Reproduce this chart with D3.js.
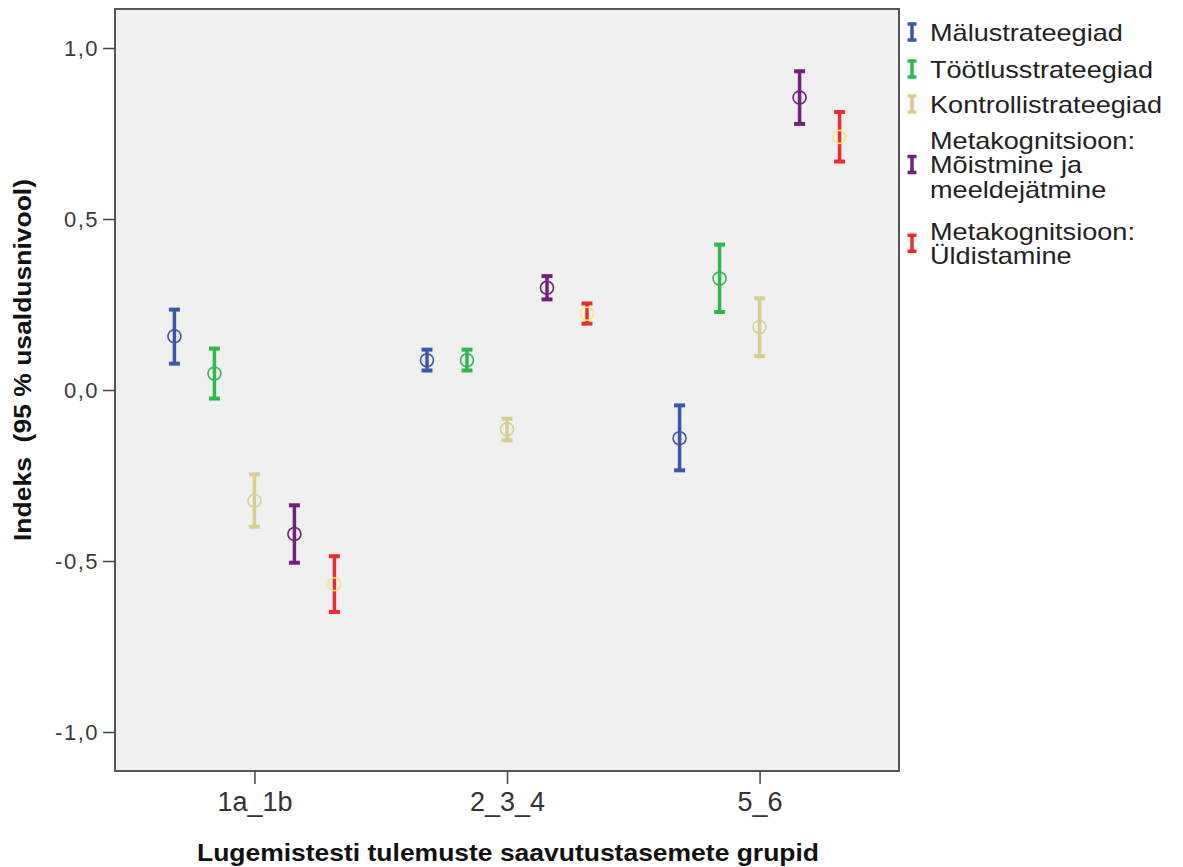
<!DOCTYPE html>
<html>
<head>
<meta charset="utf-8">
<script src="https://cdn.jsdelivr.net/npm/d3@7"></script>
<style>
  body { margin: 0; background: #fff; }
  svg { display: block; }
</style>
</head>
<body>
<svg id="chart" width="1183" height="867"></svg>
<script>
// ---- data ----
const categories = ["1a_1b", "2_3_4", "5_6"];
const seriesNames = ["Mälustrateegiad", "Töötlusstrateegiad", "Kontrollistrateegiad",
  "Metakognitsioon: Mõistmine ja meeldejätmine", "Metakognitsioon: Üldistamine"];
const legendLines = [["Mälustrateegiad"], ["Töötlusstrateegiad"], ["Kontrollistrateegiad"],
  ["Metakognitsioon:", "Mõistmine ja", "meeldejätmine"], ["Metakognitsioon:", "Üldistamine"]];
// means per series, one value per category
const meanValues = [
  [0.157, 0.087, -0.141],
  [0.048, 0.087, 0.326],
  [-0.324, -0.115, 0.184],
  [-0.421, 0.299, 0.855],
  [-0.568, 0.223, 0.740]
];
const lowerValues = [
  [0.077, 0.057, -0.235],
  [-0.025, 0.057, 0.228],
  [-0.400, -0.147, 0.099],
  [-0.505, 0.265, 0.778],
  [-0.649, 0.194, 0.668]
];
const upperValues = [
  [0.235, 0.118, -0.045],
  [0.121, 0.118, 0.425],
  [-0.247, -0.084, 0.268],
  [-0.337, 0.333, 0.932],
  [-0.486, 0.253, 0.813]
];
const yTicks = [-1.0, -0.5, 0.0, 0.5, 1.0];

// ---- styles ----
const barColors = ["#3b57a8", "#2fb84c", "#d5d08f", "#72207d", "#ee2b33"];
const circleColors = ["#3b57a8", "#2fb84c", "#d5d08f", "#72207d", "#f3ea78"];

const svg = d3.select("#chart");
const plot = { left: 115, right: 899, top: 9, bottom: 771 };

const x = d3.scalePoint().domain(categories).range([plot.left, plot.right]).padding(0.552);
const offset = d3.scalePoint().domain(d3.range(seriesNames.length)).range([-80, 80]);
const y = d3.scaleLinear().domain([-1.114, 1.114]).range([plot.bottom, plot.top]);

// background
svg.append("rect")
  .attr("x", plot.left).attr("y", plot.top)
  .attr("width", plot.right - plot.left).attr("height", plot.bottom - plot.top)
  .attr("fill", "#f0f0f0").attr("stroke", "#555").attr("stroke-width", 2);

// axes
const fmt = d => d3.format(".1f")(d).replace(".", ",").replace("−", "-");
const yAxis = svg.append("g").attr("transform", `translate(${plot.left},0)`)
  .call(d3.axisLeft(y).tickValues(yTicks).tickFormat(fmt).tickSize(12).tickPadding(4));
yAxis.select(".domain").remove();
yAxis.selectAll("line").attr("stroke", "#444").attr("stroke-width", 1.5);
yAxis.selectAll("text").attr("font-family", "Liberation Sans, Arial, sans-serif")
  .attr("font-size", 22).attr("fill", "#3a3a3a").style("letter-spacing", "1.5px");

const xAxis = svg.append("g").attr("transform", `translate(0,${plot.bottom})`)
  .call(d3.axisBottom(x).tickSize(13).tickPadding(8));
xAxis.select(".domain").remove();
xAxis.selectAll("line").attr("stroke", "#444").attr("stroke-width", 1.5);
xAxis.selectAll("text").attr("font-family", "Liberation Sans Narrow, Liberation Sans, Arial, sans-serif")
  .attr("font-size", 27).attr("fill", "#333");

// axis titles
svg.append("text")
  .attr("x", (plot.left + plot.right) / 2 + 1).attr("y", 861)
  .attr("text-anchor", "middle")
  .attr("font-family", "Liberation Sans Narrow, Liberation Sans, Arial, sans-serif")
  .attr("font-weight", "bold").attr("font-size", 24).attr("fill", "#111")
  .attr("textLength", 622).attr("lengthAdjust", "spacingAndGlyphs")
  .text("Lugemistesti tulemuste saavutustasemete grupid");

svg.append("text")
  .attr("transform", "translate(31,360) rotate(-90)")
  .attr("text-anchor", "middle")
  .attr("font-family", "Liberation Sans Narrow, Liberation Sans, Arial, sans-serif")
  .attr("font-weight", "bold").attr("font-size", 24).attr("fill", "#111")
  .style("white-space", "pre")
  .attr("textLength", 362).attr("lengthAdjust", "spacingAndGlyphs")
  .text("Indeks  (95 % usaldusnivool)");

// error bars
const points = [];
seriesNames.forEach((s, si) => {
  categories.forEach((c, ci) => {
    points.push({ si, c, mean: meanValues[si][ci], lo: lowerValues[si][ci], hi: upperValues[si][ci] });
  });
});
const g = svg.append("g");
const bars = g.selectAll("g.bar").data(points).join("g").attr("class", "bar");
const cx = d => x(d.c) + offset(d.si);
bars.append("line")
  .attr("x1", cx).attr("x2", cx)
  .attr("y1", d => y(d.hi)).attr("y2", d => y(d.lo))
  .attr("stroke", d => barColors[d.si]).attr("stroke-width", 3.5);
["hi", "lo"].forEach(k => {
  bars.append("line")
    .attr("x1", d => cx(d) - 5.5).attr("x2", d => cx(d) + 5.5)
    .attr("y1", d => y(d[k])).attr("y2", d => y(d[k]))
    .attr("stroke", d => barColors[d.si]).attr("stroke-width", 4);
});
bars.append("circle")
  .attr("cx", cx).attr("cy", d => y(d.mean)).attr("r", 6.5)
  .attr("fill", "none").attr("stroke", d => circleColors[d.si]).attr("stroke-width", 1.6);

// legend
const lineH = 24.5;
const itemTops = [32, 69, 104, 140, 231];
const legend = svg.append("g");
legendLines.forEach((lines, i) => {
  const ly = itemTops[i];
  const item = legend.append("g");
  const iconY = ly + (lines.length - 1) * lineH / 2;
  item.append("line").attr("x1", 912).attr("x2", 912).attr("y1", iconY - 8).attr("y2", iconY + 8)
    .attr("stroke", barColors[i]).attr("stroke-width", 3.5);
  [-8, 8].forEach(dy => item.append("line").attr("x1", 907.5).attr("x2", 916.5)
    .attr("y1", iconY + dy).attr("y2", iconY + dy).attr("stroke", barColors[i]).attr("stroke-width", 3.5));
  lines.forEach((t, j) => {
    item.append("text").attr("x", 930).attr("y", ly + j * lineH)
      .attr("dy", "0.36em")
      .attr("font-family", "Liberation Sans, Arial, sans-serif")
      .attr("font-size", 24).attr("fill", "#222")
      .attr("transform", `translate(930,0) scale(1.13,1) translate(-930,0)`)
      .text(t);
  });
});
</script>
</body>
</html>
